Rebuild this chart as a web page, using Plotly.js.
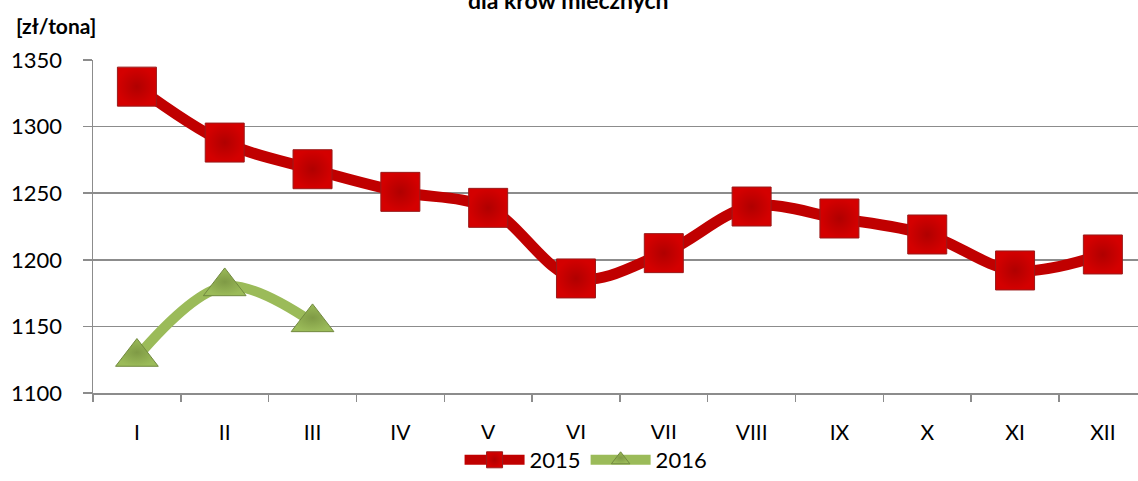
<!DOCTYPE html>
<html>
<head>
<meta charset="utf-8">
<script src="https://cdn.plot.ly/plotly-3.0.1.min.js"></script>
<style>html,body{margin:0;padding:0;background:#fff;}#chart{width:1138px;height:481px;}</style>
</head>
<body>
<div id="chart"></div>
<script>
const months = ["I","II","III","IV","V","VI","VII","VIII","IX","X","XI","XII"];
const values2015 = [1330, 1288, 1268, 1251, 1239, 1186, 1205, 1240, 1231, 1219, 1192, 1204];
const months2016 = ["I","II","III"];
const values2016 = [1127, 1180, 1153];
const yTicks = [1100, 1150, 1200, 1250, 1300, 1350];

const FONT = "Lato, 'Open Sans', sans-serif";

const traces = [
  {
    x: months, y: values2015, name: "2015", type: "scatter", mode: "lines+markers",
    line: {color: "#c00000", width: 11, shape: "spline", smoothing: 1},
    marker: {symbol: "square", size: 39, color: "#d40000",
             gradient: {type: "radial", color: "#b00000"},
             line: {color: "#9a1a1a", width: 1}}
  },
  {
    x: months2016, y: values2016, name: "2016", type: "scatter", mode: "lines+markers",
    line: {color: "#9bbb59", width: 10, shape: "spline", smoothing: 1},
    marker: {symbol: "triangle-up", size: 37, color: "#9bbb59",
             gradient: {type: "radial", color: "#7f9a45"},
             line: {color: "#71893f", width: 1}}
  }
];

const layout = {
  width: 1138, height: 481,
  margin: {l: 93, r: 0, t: 60, b: 88, autoexpand: false},
  paper_bgcolor: "#ffffff", plot_bgcolor: "#ffffff",
  font: {family: FONT, color: "#000000", size: 21},
  showlegend: true,
  legend: {orientation: "h", x: 0.515, xref: "container", xanchor: "center",
           y: 0.0, yref: "container", yanchor: "bottom",
           font: {size: 22, family: FONT}, itemwidth: 60, tracegroupgap: 0},
  xaxis: {
    type: "category", categoryorder: "array", categoryarray: months,
    range: [-0.5, 11.4],
    showline: true, linecolor: "#8c8c8c", linewidth: 1.5,
    ticks: "outside", tickson: "boundaries", ticklen: 7, tickcolor: "#8c8c8c", tickwidth: 1.5,
    showgrid: false, zeroline: false,
    tickfont: {size: 21, family: FONT}, ticklabelstandoff: 20
  },
  yaxis: {
    range: [1100, 1350], tickvals: yTicks, ticktext: yTicks.map(String),
    showline: true, linecolor: "#8c8c8c", linewidth: 1.5,
    ticks: "outside", ticklen: 9, tickcolor: "#8c8c8c", tickwidth: 1.5,
    showgrid: true, gridcolor: "#8c8c8c", gridwidth: 1.5, zeroline: false,
    tickfont: {size: 22, family: FONT}, ticklabelstandoff: 16
  },
  annotations: [
    {text: "<b>dla krów mlecznych</b>", xref: "paper", yref: "paper",
     x: 0.4555, y: 1.18, xanchor: "center", yanchor: "middle", showarrow: false,
     font: {size: 23, family: FONT}},
    {text: "<b>[zł/tona]</b>", xref: "paper", yref: "paper",
     x: -0.076, y: 1.105, xanchor: "left", yanchor: "middle", showarrow: false,
     font: {size: 21, family: FONT}}
  ]
};

Plotly.newPlot("chart", traces, layout, {staticPlot: true, displayModeBar: false});
</script>
</body>
</html>
